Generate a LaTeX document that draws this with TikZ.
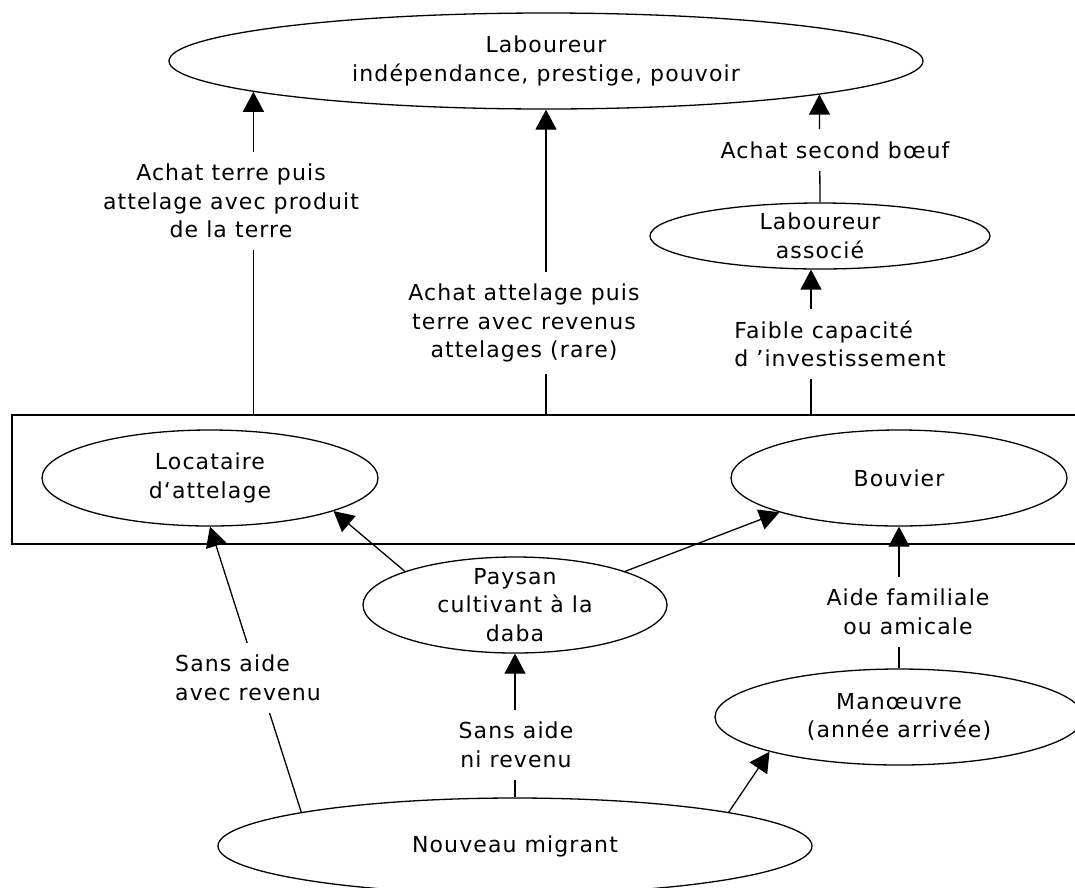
\documentclass[tikz,border=0pt]{standalone}
\usepackage{fontspec}
\newfontfamily\dvf[LetterSpace=5]{DejaVu Sans}
\usetikzlibrary{shapes.geometric,arrows.meta}
\begin{document}
\begin{tikzpicture}[x=1pt,y=-1pt,
  txt/.style={font=\dvf\fontsize{22}{28.5}\selectfont, align=center, inner sep=0pt},
  ell/.style={draw, ellipse, line width=1.3pt, inner sep=0pt},
  arr/.style={line width=1.3pt, -{Triangle[length=20pt,width=21pt]}},
  lbl/.style={txt, fill=white, inner xsep=3pt, inner ysep=12pt}]
\useasboundingbox (0,0) rectangle (1075,887);
\clip (0,0) rectangle (1075,887);
\fill[white] (0,0) rectangle (1075,887);

% group rectangle
\node[draw, line width=1.8pt, minimum width=1080pt, minimum height=129pt, anchor=north west, inner sep=0pt] (grp) at (11,414) {};

% ellipses
\node[ell, minimum width=754pt, minimum height=96pt] (lab) at (546,61) {};
\node[txt] (labt) at (lab.center) {Laboureur\\indépendance, prestige, pouvoir};
\node[ell, minimum width=340pt, minimum height=66pt] (assoc) at (820,236) {};
\node[txt] (assoct) at (assoc.center) {Laboureur\\associé};
\node[ell, minimum width=336pt, minimum height=96pt] (loc) at (210,478) {};
\node[txt] (loct) at (loc.center) {Locataire\\d‘attelage};
\node[ell, minimum width=336pt, minimum height=96pt] (bouv) at (899,478) {};
\node[txt] (bouvt) at (bouv.center) {Bouvier};
\node[ell, minimum width=304pt, minimum height=96pt] (pay) at (515,605) {};
\node[txt] (payt) at (pay.center) {Paysan\\cultivant à la\\daba};
\node[ell, minimum width=368pt, minimum height=96pt] (man) at (899,717) {};
\node[txt] (mant) at (man.center) {Manœuvre\\(année arrivée)};
\node[ell, minimum width=594pt, minimum height=96pt] (mig) at (515,846) {};
\node[txt] (migt) at (mig.center) {Nouveau migrant};

% connectors
\draw[arr] (grp.north -| lab.186) -- (lab.186);
\draw[arr] (grp.north -| lab.south) -- (lab.south);
\draw[arr] (assoc.north) -- (lab.353);
\draw[arr] (grp.north -| assoc.255) -- (assoc.255);
\draw[arr] (pay.163) -- (loc.345);
\draw[arr] (pay.17) -- (bouv.196);
\draw[arr] (man.north) -- (bouv.south);
\draw[arr] (mig.171) -- (loc.south);
\draw[arr] (mig.north) -- (pay.south);
\draw[arr] (mig.9) -- (man.195);

% labels
\node[lbl] (l1) at (231,201) {Achat terre puis\\attelage avec produit\\de la terre};
\node[lbl] (l2) at (524,323) {Achat attelage puis\\terre avec revenus\\attelages (rare)};
\node[lbl] (l3) at (835,150) {Achat second bœuf};
\node[lbl, align=left] (l4) at (840,344) {Faible capacité\\d ’investissement};
\node[lbl] (l5) at (908,612) {Aide familiale\\ou amicale};
\node[lbl, align=left] (l6) at (248,678) {Sans aide\\avec revenu};
\node[lbl] (l7) at (516,745) {Sans aide\\ni revenu};
\end{tikzpicture}
\end{document}
